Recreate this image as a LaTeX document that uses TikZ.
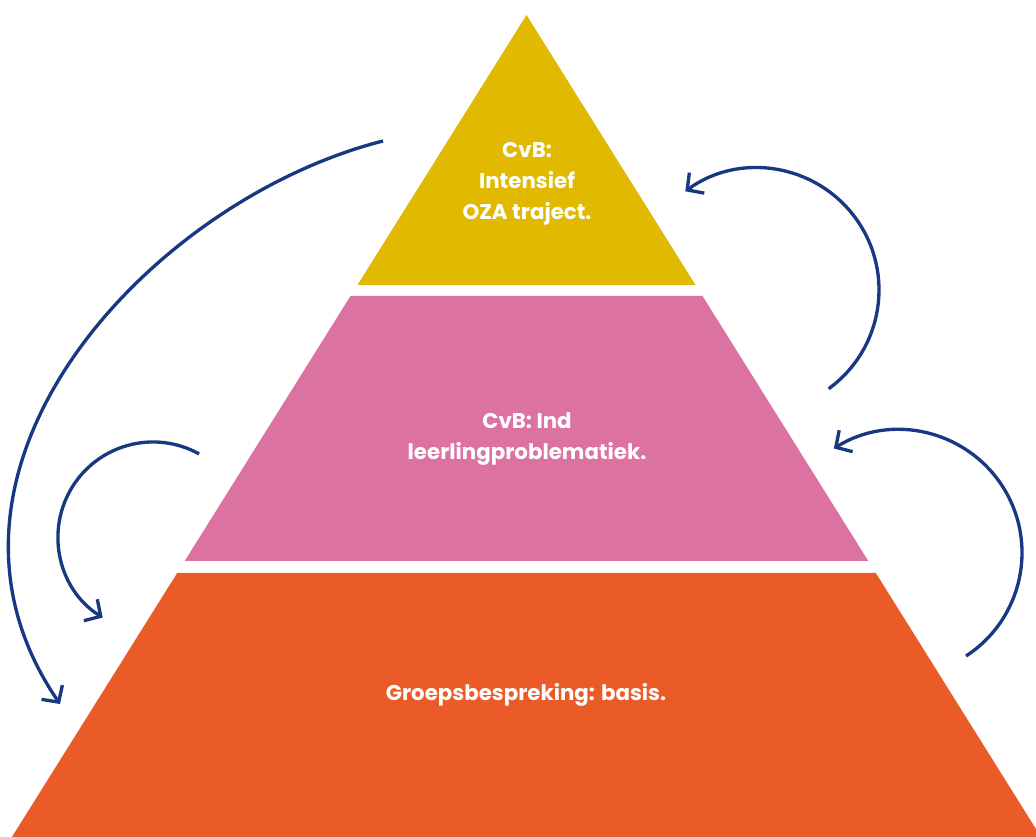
\documentclass[tikz,border=0pt]{standalone}
\usepackage{fontspec}
\setmainfont{Poppins}
\usetikzlibrary{arrows.meta}
\definecolor{cyellow}{RGB}{224,185,0}
\definecolor{cpink}{RGB}{220,114,162}
\definecolor{corange}{RGB}{234,91,39}
\definecolor{cblue}{RGB}{24,57,130}
\begin{document}
\begin{tikzpicture}[x=0.75pt,y=-0.75pt,
  lbl/.style={text=white,font=\bfseries\fontsize{16}{23.3}\selectfont,align=center,inner sep=0pt},
  looparrow/.style={draw=cblue,line width=2.5pt,-{Straight Barb[length=9pt,width=19pt]}}]
\useasboundingbox (0,0) rectangle (1036,837);
\begin{scope}
\clip (0,0) rectangle (1036,837);
\fill[cyellow] (526.5,15) -- (695.5,285) -- (357.5,285) -- cycle;
\fill[cpink] (350.5,296) -- (702.5,296) -- (868.3,561) -- (184.7,561) -- cycle;
\fill[corange] (177.2,573) -- (875.8,573) -- (1041,837) -- (11.9,837) -- cycle;
\end{scope}
\node[lbl] (top) at (527,184) {CvB:\\Intensief\\OZA traject.};
\node[lbl] (mid) at (527,439) {CvB: Ind\\leerlingproblematiek.};
\node[lbl] (bot) at (526,695) {Groepsbespreking: basis.};
% arrows
\coordinate (a1s) at (383,141);
\coordinate (a1e) at (60,704);
\draw[looparrow] (a1s) .. controls (150,200) and (-100,470) .. (a1e);
\coordinate (a2s) at (199.1,453.9);
\coordinate (a2e) at (102.7,617.6);
\draw[looparrow] (a2s) arc[start angle=61, end angle=238, radius=71.25pt];
\coordinate (a3s) at (828.7,388.7);
\coordinate (a3e) at (685.3,191.3);
\draw[looparrow] (a3s) arc[start angle=-54, end angle=126, radius=91.5pt];
\coordinate (a4s) at (966,656);
\coordinate (a4e) at (833.8,448.7);
\draw[looparrow] (a4s) arc[start angle=-57, end angle=122, radius=92.25pt];
\end{tikzpicture}
\end{document}
